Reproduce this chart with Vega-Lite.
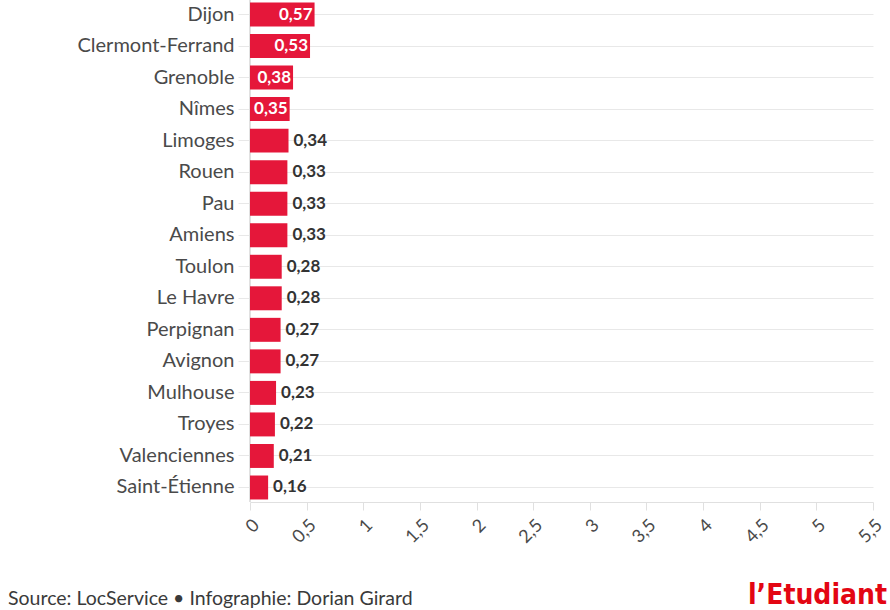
{
  "$schema": "https://vega.github.io/schema/vega-lite/v6.json",
  "width": 623,
  "height": 502,
  "autosize": {"type": "none"},
  "padding": {"left": 250, "top": 0, "right": 17, "bottom": 108},
  "background": "white",
  "config": {
    "view": {"stroke": null},
    "font": "Lato",
    "locale": {"number": {"decimal": ",", "thousands": " ", "grouping": [3], "currency": ["", " €"]}}
  },
  "data": {
    "values": [
      {"ville": "Dijon", "v": 0.57},
      {"ville": "Clermont-Ferrand", "v": 0.53},
      {"ville": "Grenoble", "v": 0.38},
      {"ville": "Nîmes", "v": 0.35},
      {"ville": "Limoges", "v": 0.34},
      {"ville": "Rouen", "v": 0.33},
      {"ville": "Pau", "v": 0.33},
      {"ville": "Amiens", "v": 0.33},
      {"ville": "Toulon", "v": 0.28},
      {"ville": "Le Havre", "v": 0.28},
      {"ville": "Perpignan", "v": 0.27},
      {"ville": "Avignon", "v": 0.27},
      {"ville": "Mulhouse", "v": 0.23},
      {"ville": "Troyes", "v": 0.22},
      {"ville": "Valenciennes", "v": 0.21},
      {"ville": "Saint-Étienne", "v": 0.16}
    ]
  },
  "encoding": {
    "y": {
      "field": "ville",
      "type": "nominal",
      "sort": null,
      "scale": {"paddingInner": 0.24, "paddingOuter": 0.08},
      "axis": {
        "title": null,
        "domain": false,
        "grid": true,
        "gridColor": "#e8e8e8",
        "tickColor": "#e8e8e8",
        "tickSize": 12,
        "labelPadding": 4,
        "labelFontSize": 20,
        "labelColor": "#4a4a4a",
        "labelFont": "Lato"
      }
    }
  },
  "layer": [
    {
      "mark": {"type": "rule", "color": "#e0e0e0", "strokeWidth": 1},
      "encoding": {"x": {"datum": 0, "type": "quantitative"}, "y": null}
    },
    {
      "mark": {"type": "bar", "color": "#e5173a"},
      "encoding": {
        "x": {
          "field": "v",
          "type": "quantitative",
          "scale": {"domain": [0, 5.5], "nice": false},
          "axis": {
            "title": null,
            "values": [0, 0.5, 1, 1.5, 2, 2.5, 3, 3.5, 4, 4.5, 5, 5.5],
            "format": "~g",
            "grid": false,
            "domain": true,
            "domainColor": "#e0e0e0",
            "tickColor": "#e0e0e0",
            "tickSize": 8,
            "labelAngle": -45,
            "labelFontSize": 18,
            "labelColor": "#4a4a4a",
            "labelFont": "Lato",
            "labelPadding": 6
          }
        }
      }
    },
    {
      "transform": [{"filter": "datum.v >= 0.35"}],
      "mark": {"type": "text", "align": "right", "dx": -2, "fontSize": 17, "fontWeight": "bold", "color": "white", "font": "Lato"},
      "encoding": {
        "x": {"field": "v", "type": "quantitative"},
        "text": {"field": "v", "type": "quantitative", "format": ".2f"}
      }
    },
    {
      "transform": [{"filter": "datum.v < 0.35"}],
      "mark": {"type": "text", "align": "left", "dx": 5, "fontSize": 17, "fontWeight": "bold", "color": "#333333", "font": "Lato"},
      "encoding": {
        "x": {"field": "v", "type": "quantitative"},
        "text": {"field": "v", "type": "quantitative", "format": ".2f"}
      }
    },
    {
      "data": {"values": [{"source": "Source: LocService • Infographie: Dorian Girard"}]},
      "mark": {"type": "text", "align": "left", "baseline": "alphabetic", "fontSize": 19.5, "color": "#3a3a3a", "font": "Lato", "x": -242, "y": 605},
      "encoding": {"text": {"field": "source"}, "y": null}
    },
    {
      "data": {"values": [{"logo": "l’Etudiant"}]},
      "mark": {"type": "text", "align": "right", "baseline": "alphabetic", "fontSize": 28, "fontWeight": "bold", "color": "#e30613", "font": "'Liberation Sans Narrow', 'DejaVu Sans Condensed', 'Roboto Condensed', sans-serif", "x": 637, "y": 604},
      "encoding": {"text": {"field": "logo"}, "y": null}
    }
  ]
}
